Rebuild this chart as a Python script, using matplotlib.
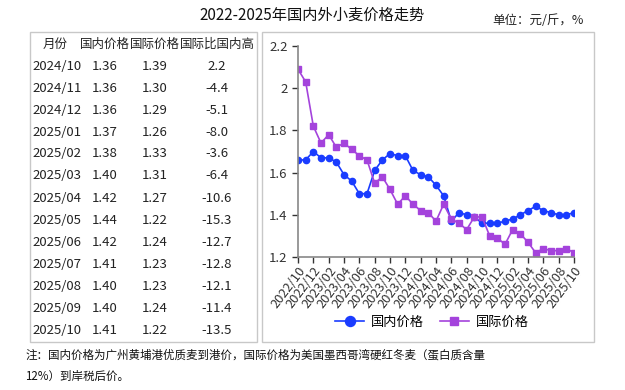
import matplotlib
matplotlib.use("Agg")
import matplotlib.pyplot as plt
from matplotlib.patches import Rectangle

plt.rcParams['font.family'] = ['Noto Sans CJK SC', 'DejaVu Sans']
plt.rcParams['axes.unicode_minus'] = False

# monthly series 2022/10 - 2025/10 (yuan / jin)
months = []
for y in range(2022, 2026):
    for m in range(1, 13):
        if (y == 2022 and m < 10) or (y == 2025 and m > 10):
            continue
        months.append(f"{y}/{m:02d}")

domestic = [1.66, 1.66, 1.70, 1.67, 1.67, 1.65, 1.59, 1.56, 1.50, 1.50,
            1.61, 1.66, 1.69, 1.68, 1.68, 1.61, 1.59, 1.58, 1.54, 1.49,
            1.37, 1.41, 1.40, 1.39, 1.36, 1.36, 1.36, 1.37, 1.38, 1.40,
            1.42, 1.44, 1.42, 1.41, 1.40, 1.40, 1.41]
international = [2.09, 2.03, 1.82, 1.74, 1.78, 1.72, 1.74, 1.71, 1.68, 1.66,
                 1.55, 1.58, 1.52, 1.45, 1.49, 1.45, 1.42, 1.41, 1.37, 1.45,
                 1.38, 1.36, 1.33, 1.39, 1.39, 1.30, 1.29, 1.26, 1.33, 1.31,
                 1.27, 1.22, 1.24, 1.23, 1.23, 1.24, 1.22]

# table on the left
table_header = ["月份", "国内价格", "国际价格", "国际比国内高"]
table_months = ["2024/10", "2024/11", "2024/12", "2025/01", "2025/02", "2025/03", "2025/04",
                "2025/05", "2025/06", "2025/07", "2025/08", "2025/09", "2025/10"]
table_dom = ["1.36", "1.36", "1.36", "1.37", "1.38", "1.40", "1.42",
             "1.44", "1.42", "1.41", "1.40", "1.40", "1.41"]
table_intl = ["1.39", "1.30", "1.29", "1.26", "1.33", "1.31", "1.27",
              "1.22", "1.24", "1.23", "1.23", "1.24", "1.22"]
table_diff = ["2.2", "-4.4", "-5.1", "-8.0", "-3.6", "-6.4", "-10.6",
              "-15.3", "-12.7", "-12.8", "-12.1", "-11.4", "-13.5"]

W, H = 625, 390
fig = plt.figure(figsize=(W / 100, H / 100), dpi=100)

def fx(px):
    return px / W

def fy(py):
    return 1 - py / H

txt = '#222222'

fig.text(fx(312), fy(15), "2022-2025年国内外小麦价格走势", ha='center', va='center',
         fontsize=11, color='#111111')
fig.text(fx(584), fy(20), "单位：元/斤，%", ha='right', va='center', fontsize=9, color='#222222')

# boxes
for x0, x1 in [(30, 257), (262, 594)]:
    fig.patches.append(Rectangle((fx(x0), fy(342)), fx(x1) - fx(x0), fy(32) - fy(342),
                                 transform=fig.transFigure, fill=False,
                                 edgecolor='#c8c8c8', linewidth=1))

col_x = [55, 105, 155, 217]
for i in range(4):
    fig.text(fx(col_x[i]), fy(44), table_header[i], ha='center', va='center', fontsize=9, color=txt)
for r in range(len(table_months)):
    yy = fy(66 + 22 * r)
    fig.text(fx(32), yy, table_months[r], ha='left', va='center', fontsize=9.5, color=txt)
    fig.text(fx(col_x[1]), yy, table_dom[r], ha='center', va='center', fontsize=9.5, color=txt)
    fig.text(fx(col_x[2]), yy, table_intl[r], ha='center', va='center', fontsize=9.5, color=txt)
    fig.text(fx(col_x[3]), yy, table_diff[r], ha='center', va='center', fontsize=9.5, color=txt)

# line chart
ax = fig.add_axes([fx(298), fy(257), fx(574) - fx(298), fy(46) - fy(257)])
x = list(range(len(months)))
ax.plot(x, domestic, color='#1a3cff', marker='o', markersize=4.5, linewidth=1.2, label='国内价格')
ax.plot(x, international, color='#a443dc', marker='s', markersize=4, linewidth=1.2, label='国际价格')

ax.set_xlim(0, len(months) - 1)
ax.set_ylim(1.2, 2.2)
ax.set_yticks([1.2, 1.4, 1.6, 1.8, 2.0, 2.2])
ax.set_yticklabels(["1.2", "1.4", "1.6", "1.8", "2", "2.2"])
ax.set_xticks(x[::2])
ax.set_xticklabels(months[::2], rotation=53, ha='right', rotation_mode='anchor', fontsize=9.3)
ax.tick_params(axis='y', labelsize=9.5, colors='#333333', length=4, width=1, direction='out')
ax.tick_params(axis='x', colors='#333333', length=4, width=1, direction='out', pad=1)
for s in ['top', 'right']:
    ax.spines[s].set_visible(False)
for s in ['left', 'bottom']:
    ax.spines[s].set_color('#888888')
    ax.spines[s].set_linewidth(1.2)
ax.patch.set_alpha(0)

ax.legend(loc='center', bbox_to_anchor=(fx(432), fy(322)), bbox_transform=fig.transFigure,
          ncol=2, frameon=False, fontsize=9.5, markerscale=1.6, handlelength=2.2,
          columnspacing=1.2, handletextpad=0.5)

fig.text(fx(25), fy(355), "注：国内价格为广州黄埔港优质麦到港价，国际价格为美国墨西哥湾硬红冬麦（蛋白质含量",
         ha='left', va='center', fontsize=8.3, color='#111111')
fig.text(fx(25), fy(376), "12%）到岸税后价。", ha='left', va='center', fontsize=8.3, color='#111111')

fig.savefig("out.png", dpi=100)
